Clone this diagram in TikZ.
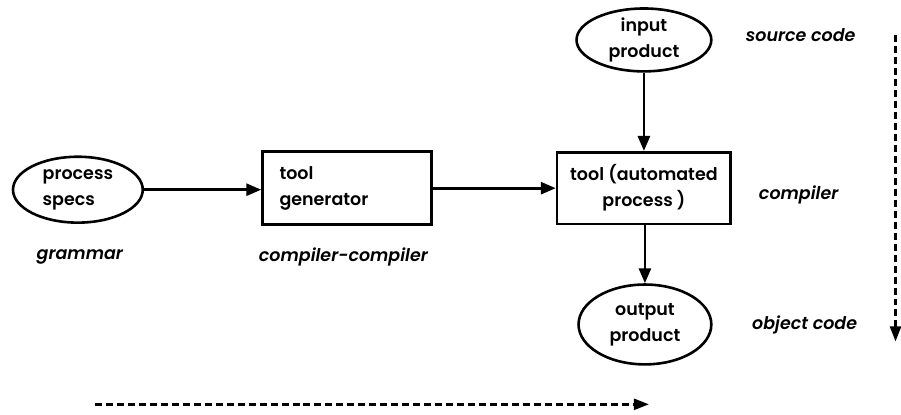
\documentclass[tikz,border=0pt]{standalone}
\usepackage{fontspec}
\setmainfont{Poppins}[UprightFont=* SemiBold, ItalicFont=* SemiBold Italic]
\usetikzlibrary{shapes.geometric,arrows.meta}
\begin{document}
\begin{tikzpicture}[x=1pt,y=-1pt,
  every node/.style={font=\fontsize{17.5}{26}\selectfont},
  oval/.style={draw,ellipse,line width=2.6pt,inner sep=0pt},
  boxnode/.style={draw,rectangle,line width=2.6pt,inner sep=0pt},
  lbl/.style={font=\fontsize{17.5}{20}\selectfont\itshape},
  flow/.style={line width=2.8pt,-{Triangle[length=15pt,width=12pt]}},
  dflow/.style={line width=2.4pt,dash pattern=on 7pt off 4pt,-{Triangle[length=15pt,width=11pt]}}]
\fill[white] (0,0) rectangle (901,415);
\node[oval,minimum width=130pt,minimum height=66pt,align=left] (ps) at (78,190) {process\\specs};
\node[boxnode,minimum width=169pt,minimum height=73pt,text width=135pt,align=left] (tg) at (347.5,188.5) {tool\\generator};
\node[boxnode,minimum width=174pt,minimum height=72pt,align=center] (tp) at (645,188.5) {tool (automated\\process )};
\node[oval,minimum width=135pt,minimum height=63pt,align=center] (ip) at (645,40) {input\\product};
\node[oval,minimum width=133pt,minimum height=80pt,align=center] (op) at (646,325) {output\\product};
\node[lbl] (lsc) at (802,35) {source code};
\node[lbl] (lco) at (800,195) {compiler};
\node[lbl] (loc) at (806,325) {object code};
\node[lbl] (lgr) at (80,257) {grammar};
\node[lbl] (lcc) at (344,257) {compiler-compiler};
\coordinate (v1) at (897,35);
\coordinate (v2) at (897,342);
\coordinate (h1) at (95,405);
\coordinate (h2) at (650,405);
\draw[flow] (ps.east) -- (ps.east -| tg.west);
\draw[flow] (tg.east) -- (tp.west |- tg.east);
\draw[flow] (ip.south) -- (ip.south |- tp.north);
\draw[flow] (tp.south -| op.north) -- (op.north);
\draw[dflow] (v1) -- (v2);
\draw[dflow] (h1) -- (h2);
\end{tikzpicture}
\end{document}
